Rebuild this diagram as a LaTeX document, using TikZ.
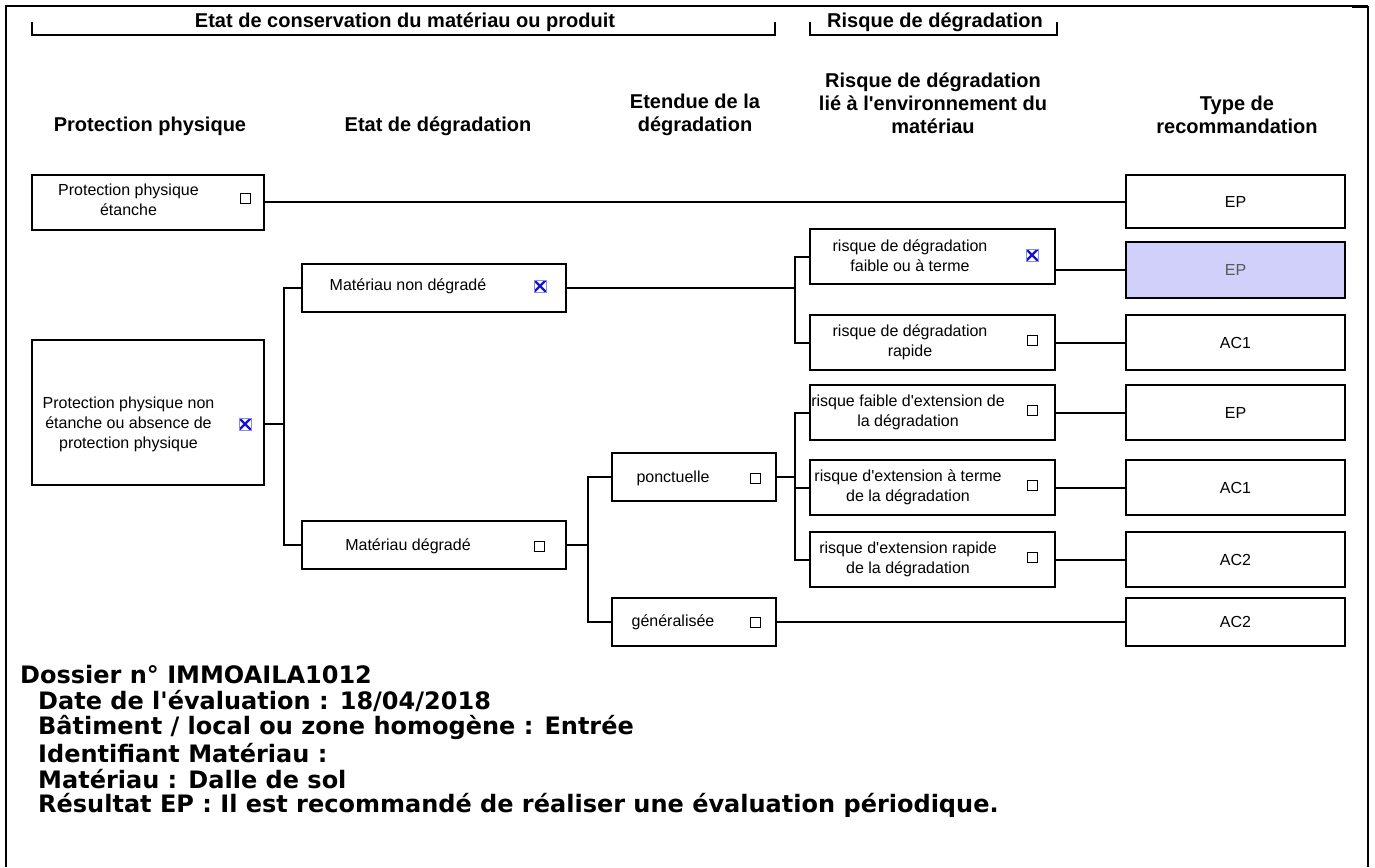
\documentclass[tikz,border=0pt]{standalone}
\usepackage{fontspec}
\setmainfont{Liberation Sans}
\newfontfamily\dvs{DejaVu Sans}
\definecolor{sel}{RGB}{208,208,250}
\definecolor{xblue}{RGB}{20,20,210}
\newcommand{\q}{\textquotesingle}
\begin{document}
\begin{tikzpicture}[x=1pt,y=-1pt,
  bx/.style={draw, line width=2pt, inner sep=0pt, outer sep=0pt},
  ln/.style={line width=2pt},
  hd/.style={font=\fontsize{20}{23}\selectfont\bfseries, align=center, inner sep=0pt},
  tx/.style={font=\fontsize{16}{20}\selectfont, align=center, inner sep=0pt},
  cbox/.style={draw, line width=1pt, minimum size=10pt, inner sep=0pt},
  xbox/.style={draw=xblue!50, line width=0.6pt, minimum size=12pt, inner sep=0pt,
    path picture={\draw[xblue, line width=2.2pt]
      (path picture bounding box.south west) -- (path picture bounding box.north east)
      (path picture bounding box.north west) -- (path picture bounding box.south east);}},
  rbox/.style={bx, minimum width=245pt, minimum height=55pt},
  tbox/.style={bx, minimum width=219pt, minimum height=55pt, font=\fontsize{16}{20}\selectfont},
  btx/.style={font=\dvs\bfseries\fontsize{24}{26}\selectfont, anchor=west, inner sep=0pt}
]
\useasboundingbox (0,0) rectangle (1375,867);
% frame
\draw[line width=1.3pt] (7,6) -- (1368,6);
\draw[line width=2.2pt] (6,867) -- (6,6) -- (20,6);
\draw[line width=2.2pt] (1352,7) -- (1368,7) -- (1368,867);
% brackets
\node[hd] (g1) at (405,22) {Etat de conservation du matériau ou produit};
\node[hd] (g2) at (935,22) {Risque de dégradation};
\coordinate (b1l) at (32,35); \coordinate (b1r) at (775,35);
\coordinate (b2l) at (810,35); \coordinate (b2r) at (1057,35);
\draw[ln] ([yshift=13]b1l) -- (b1l) -- (b1r) -- ([yshift=13]b1r);
\draw[ln] ([yshift=13]b2l) -- (b2l) -- (b2r) -- ([yshift=13]b2r);
% headers
\node[hd] (h1) at (150,126) {Protection physique};
\node[hd] (h2) at (438,126) {Etat de dégradation};
\node[hd] (h3) at (695,114.5) {Etendue de la\\dégradation};
\node[hd] (h4) at (933,103) {Risque de dégradation\\lié à l\q environnement du\\matériau};
\node[hd] (h5) at (1237,114.5) {Type de\\recommandation};
% column 1
\node[bx, minimum width=232pt, minimum height=55pt] (ppe) at (148,202) {};
\node[tx] (tppe) at (128.5,200) {Protection physique\\étanche};
\node[cbox] (cppe) at (245,198) {};
\node[bx, minimum width=232pt, minimum height=145pt] (ppne) at (148,412.5) {};
\node[tx] (tppne) at (128.5,424) {Protection physique non\\étanche ou absence de\\protection physique};
\node[xbox] (cppne) at (245,424) {};
% column 2
\node[bx, minimum width=264pt, minimum height=48pt] (mnd) at (434,288) {};
\node[tx] (tmnd) at (408,286) {Matériau non dégradé};
\node[xbox] (cmnd) at (540,286) {};
\node[bx, minimum width=264pt, minimum height=48pt] (md) at (434,545) {};
\node[tx] (tmd) at (408,546) {Matériau dégradé};
\node[cbox] (cmd) at (539,546) {};
% column 3
\node[bx, minimum width=164pt, minimum height=48pt] (pon) at (694,477) {};
\node[tx] (tpon) at (673,478) {ponctuelle};
\node[cbox] (cpon) at (755,478) {};
\node[bx, minimum width=164pt, minimum height=48pt] (gen) at (694,621.5) {};
\node[tx] (tgen) at (673,622) {généralisée};
\node[cbox] (cgen) at (755,622) {};
% column 4
\node[rbox] (r1) at (932.5,256.5) {};
\node[tx] (tr1) at (910,256) {risque de dégradation\\faible ou à terme};
\node[xbox] (cr1) at (1032,255) {};
\node[rbox] (r2) at (932.5,342.5) {};
\node[tx] (tr2) at (910,342) {risque de dégradation\\rapide};
\node[cbox] (cr2) at (1032,340) {};
\node[rbox] (r3) at (932.5,412.5) {};
\node[tx] (tr3) at (908,412) {risque faible d\q extension de\\la dégradation};
\node[cbox] (cr3) at (1032,410) {};
\node[rbox] (r4) at (932.5,487.5) {};
\node[tx] (tr4) at (908,487) {risque d\q extension à terme\\de la dégradation};
\node[cbox] (cr4) at (1032,485) {};
\node[rbox] (r5) at (932.5,559.5) {};
\node[tx] (tr5) at (908,559) {risque d\q extension rapide\\de la dégradation};
\node[cbox] (cr5) at (1032,557) {};
% column 5
\node[tbox, minimum height=53pt] (t1) at (1235.5,201.5) {EP};
\node[tbox, fill=sel, minimum height=56pt, text=black!65] (t2) at (1235.5,270) {EP};
\node[tbox] (t3) at (1235.5,342.5) {AC1};
\node[tbox] (t4) at (1235.5,412.5) {EP};
\node[tbox] (t5) at (1235.5,487.5) {AC1};
\node[tbox] (t6) at (1235.5,559.5) {AC2};
\node[tbox, minimum height=48pt] (t7) at (1235.5,621.5) {AC2};
% connectors
\draw[ln] (ppe.east) -- (ppe.east -| t1.west);
\coordinate (j1) at (284,424);
\draw[ln] (ppne.east |- j1) -- (j1);
\draw[ln] (mnd.west) -| (j1) |- (md.west);
\coordinate (j2) at (795,288);
\draw[ln] (mnd.east) -- (j2);
\draw[ln] (r1.west) -| (j2) |- (r2.west);
\coordinate (j3) at (588,545);
\draw[ln] (md.east) -- (j3);
\draw[ln] (pon.west) -| (j3) |- (gen.west);
\coordinate (j4) at (795,477);
\draw[ln] (pon.east) -- (j4);
\draw[ln] (r3.west) -| (j4) |- (r5.west);
\draw[ln] (r4.west) -- (r4.west -| j4);
\draw[ln] (t2.west -| r1.east) -- (t2.west);
\draw[ln] (r2.east) -- (r2.east -| t3.west);
\draw[ln] (r3.east) -- (r3.east -| t4.west);
\draw[ln] (r4.east) -- (r4.east -| t5.west);
\draw[ln] (r5.east) -- (r5.east -| t6.west);
\draw[ln] (gen.east) -- (gen.east -| t7.west);
% bottom text
\node[btx] (d1) at (20,675) {Dossier n° IMMOAILA1012};
\node[btx] (d2) at (38,701) {Date de l'évaluation : 18/04/2018};
\node[btx] (d3) at (38,727) {Bâtiment / local ou zone homogène : Entrée};
\node[btx] (d4) at (38,753) {Identifiant Matériau :};
\node[btx] (d5) at (38,779) {Matériau : Dalle de sol};
\node[btx] (d6) at (38,805) {Résultat EP : Il est recommandé de réaliser une évaluation périodique.};
\end{tikzpicture}
\end{document}
